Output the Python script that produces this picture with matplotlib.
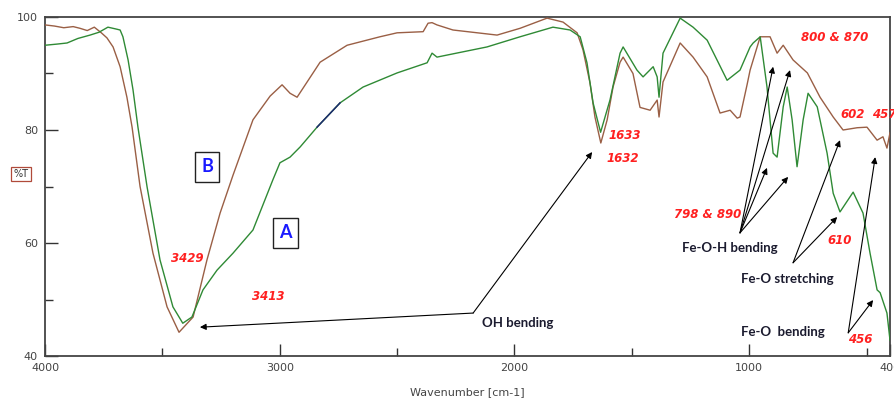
import matplotlib
matplotlib.use("Agg")
import matplotlib.pyplot as plt
import numpy as np

# ---- data ----
wn_B = [4000, 3960, 3920, 3880, 3851, 3820, 3790, 3760, 3736, 3710, 3680, 3651, 3629, 3595, 3540,
        3480, 3429, 3369, 3310, 3254, 3199, 3114, 3041, 2990, 2956, 2926, 2858, 2828, 2713,
        2573, 2500, 2389, 2368, 2351, 2330, 2262, 2074, 1976, 1861, 1793, 1733, 1708, 1678,
        1657, 1632, 1605, 1580, 1550, 1537, 1495, 1465, 1422, 1392, 1384, 1367, 1294, 1239,
        1179, 1124, 1081, 1051, 1039, 1009, 996, 953, 911, 881, 855, 813, 752, 698, 642,
        600, 540, 498, 455, 430, 413, 400]
T_B = [98.6, 98.4, 98.1, 98.3, 98.0, 97.6, 98.2, 97.2, 96.3, 94.7, 91.2, 85.8, 80.5, 70.0, 58.2,
       48.7, 44.2, 46.9, 57.0, 65.3, 72.0, 81.8, 86.0, 88.0, 86.5, 85.8, 90.1, 92.0, 95.0,
       96.5, 97.2, 97.4, 98.9, 99.0, 98.6, 97.7, 96.8, 98.0, 99.8, 99.1, 97.2, 94.2, 88.3,
       82.3, 77.7, 81.8, 87.6, 92.0, 92.9, 90.0, 84.0, 83.5, 85.3, 82.3, 88.5, 95.4, 92.9,
       89.4, 83.0, 83.5, 82.1, 82.3, 88.0, 90.6, 96.5, 96.5, 93.6, 95.0, 92.4, 90.1, 85.8, 82.3,
       80.0, 80.4, 80.5, 78.2, 78.8, 76.8, 79.5]

wn_A = [4000, 3950, 3906, 3860, 3808, 3770, 3732, 3700, 3680, 3668, 3646, 3625, 3604, 3565, 3510,
        3455, 3413, 3374, 3327, 3267, 3199, 3114, 3029, 2999, 2956, 2913, 2841, 2743, 2645,
        2500, 2372, 2351, 2330, 2117, 1976, 1836, 1763, 1720, 1691, 1665, 1633, 1593, 1550,
        1537, 1478, 1452, 1409, 1392, 1384, 1367, 1294, 1239, 1179, 1137, 1094, 1039, 996,
        983, 953, 924, 898, 881, 855, 838, 817, 796, 770, 749, 710, 668, 642, 613, 557,
        515, 485, 455, 442, 413, 400]
T_A = [95.0, 95.2, 95.4, 96.2, 96.8, 97.3, 98.2, 97.9, 97.7, 96.5, 92.4, 87.1, 80.5, 69.9, 57.0,
       48.7, 45.8, 46.9, 51.7, 55.2, 58.2, 62.3, 71.2, 74.2, 75.2, 77.0, 80.5, 84.8, 87.6,
       90.1, 91.9, 93.6, 92.9, 94.7, 96.5, 98.2, 97.7, 96.5, 91.9, 84.8, 79.6, 85.3, 93.6,
       94.7, 90.6, 89.4, 91.2, 89.4, 85.8, 93.6, 99.8, 98.2, 95.9, 92.4, 88.8, 90.6, 94.7,
       95.4, 96.5, 87.6, 75.9, 75.2, 84.1, 87.6, 81.8, 73.5, 81.8, 86.5, 84.1, 75.9, 68.8, 65.5, 69.0,
       65.3, 58.2, 51.7, 51.2, 47.6, 42.8]

x_major = [4000, 3000, 2000, 1000, 400]
x_minor = [3500, 2500, 1500, 500]
y_major = [40, 60, 80, 100]
y_minor = [50, 70, 90]

# ---- figure ----
fig = plt.figure(figsize=(8.95, 3.99), dpi=100)
ax = fig.add_axes([45 / 895, 43 / 399, 845 / 895, 339 / 399])

green = "#2f8a35"
brown = "#9a5f45"
ax.plot(wn_B, T_B, color=brown, lw=1.0, zorder=3)
ax.plot(wn_A, T_A, color=green, lw=1.0, zorder=3)
wa = np.array(wn_A); ta = np.array(T_A)
m = (wa <= 2845) & (wa >= 2740)
ax.plot(wa[m], ta[m], color="#1c2a6e", lw=1.1, zorder=4)

ax.set_xlim(4000, 400)
ax.set_ylim(40, 100)
ax.set_xticks(x_major)
ax.set_xticks(x_minor, minor=True)
ax.set_yticks(y_major)
ax.set_yticks(y_minor, minor=True)
ax.tick_params(which="both", direction="in", colors="#333333", labelsize=8, labelcolor="#444444")
ax.tick_params(which="major", length=9, width=1.0, pad=5)
ax.tick_params(which="minor", length=6, width=1.0)
for s in ax.spines.values():
    s.set_color("#444444")
    s.set_linewidth(1.3)

# labels
fig.text(467 / 895, 1 - 392 / 399, "Wavenumber [cm-1]", ha="center", va="center",
         fontsize=8, color="#444444")
fig.text(21 / 895, 1 - 174 / 399, "%T", ha="center", va="center", fontsize=7, color="#333333",
         bbox=dict(boxstyle="square,pad=0.25", fc="white", ec="#b04a3a", lw=0.9))

# boxed A / B
for lab, x, y in [("B", 3310, 73.5), ("A", 2977, 61.8)]:
    ax.text(x, y, lab, ha="center", va="center", fontsize=13, fontweight="bold",
            color="#1a1aff", family=["Liberation Sans Narrow", "Lato", "DejaVu Sans"],
            bbox=dict(boxstyle="square,pad=0.35", fc="white", ec="#222222", lw=1.0))

red = "#ff2020"
red_kw = dict(color=red, fontsize=8.5, fontweight="bold", fontstyle="italic",
              ha="center", va="center", family="DejaVu Sans")
for s, x, y in [("3429", 3395, 57.3), ("3413", 3050, 50.6), ("1633", 1529, 79.1),
                ("1632", 1537, 74.9), ("800 & 870", 634, 96.3), ("602", 561, 82.8),
                ("798 & 890", 1179, 65.0), ("610", 613, 60.5), ("456", 527, 43.0)]:
    ax.text(x, y, s, **red_kw)
ax.text(478, 82.8, "457", color=red, fontsize=8.5, fontweight="bold", fontstyle="italic",
        ha="left", va="center", clip_on=False)

dark_kw = dict(color="#1b1b2f", fontsize=9.5, fontweight="bold", ha="center", va="center",
               family=["Lato", "DejaVu Sans"])
for s, x, y in [("OH bending", 1985, 45.8), ("Fe-O-H bending", 1081, 59.1),
                ("Fe-O stretching", 838, 53.6), ("Fe-O  bending", 855, 44.2)]:
    ax.text(x, y, s, **dark_kw)

arr = dict(arrowstyle="-|>", color="black", lw=0.8, mutation_scale=9, shrinkA=0, shrinkB=0)

def fan(src, targets):
    for t in targets:
        ax.annotate("", xy=t, xytext=src, arrowprops=arr)

# OH bending: bent double-headed path
fan((2176, 47.6), [(1669, 76.1), (3340, 45.1)])
fan((1039, 61.8), [(898, 91.2), (826, 90.6), (924, 73.3), (834, 71.7)])
fan((813, 56.5), [(613, 78.2), (625, 64.6)])
fan((578, 44.1), [(463, 75.2), (472, 49.9)])

fig.savefig("out.png", dpi=100, facecolor="white")
